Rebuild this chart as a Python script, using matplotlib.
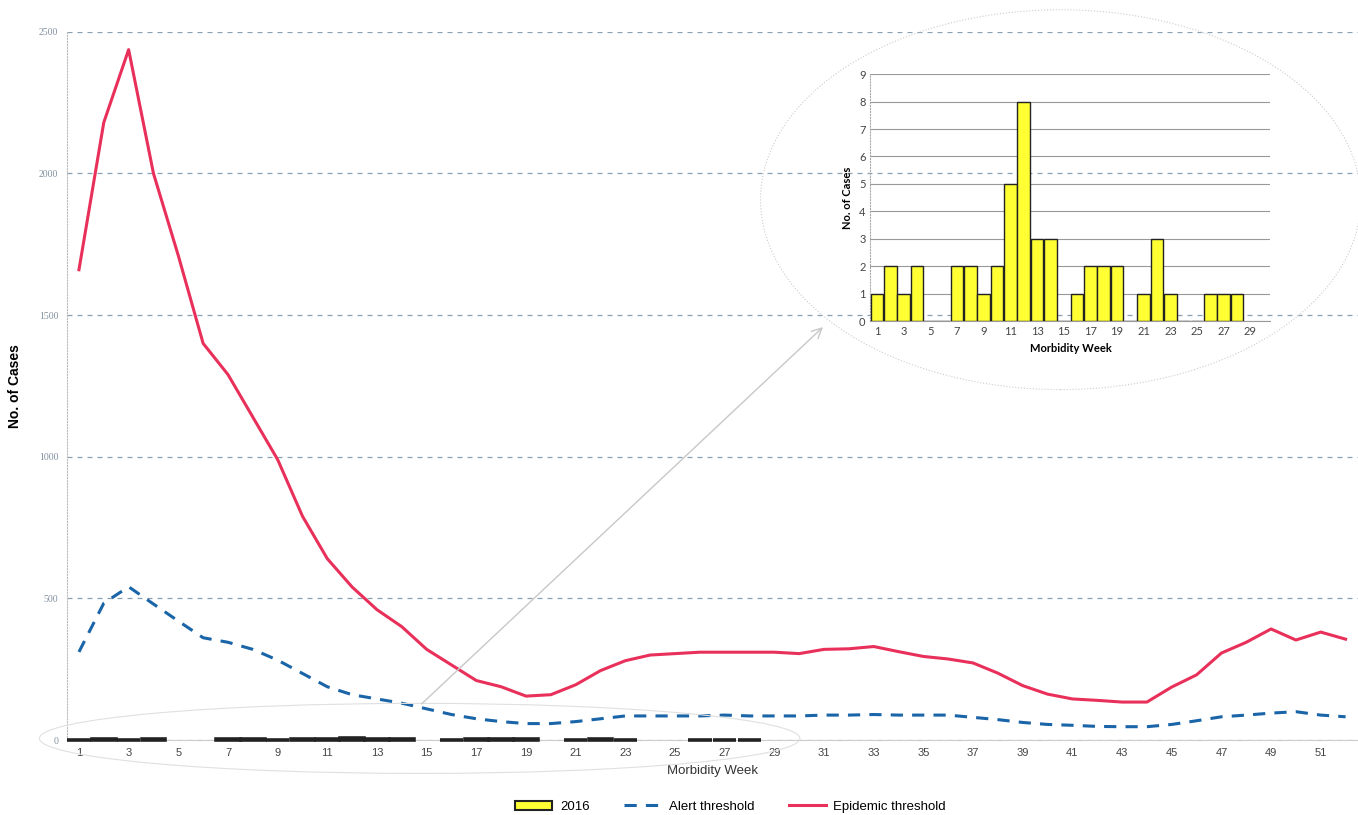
import numpy as np
import matplotlib.pyplot as plt
from matplotlib.patches import Ellipse, FancyArrowPatch, Patch
from matplotlib.lines import Line2D

plt.rcParams['font.family'] = ['Liberation Sans', 'DejaVu Sans']

# weekly data
weeks = np.arange(1, 53)
epidemic = [1660, 2180, 2437, 2000, 1710, 1400, 1290, 1140, 990, 790,
            640, 540, 460, 400, 320, 265, 210, 188, 155, 160,
            195, 245, 280, 300, 305, 310, 310, 310, 310, 305,
            320, 322, 330, 312, 295, 286, 272, 236, 192, 162,
            145, 140, 134, 134, 187, 230, 307, 345, 392, 353,
            381, 356]
alert = [311, 483, 541, 480, 420, 361, 345, 320, 282, 235,
         188, 160, 145, 130, 110, 90, 75, 65, 58, 58,
         65, 75, 85, 85, 85, 85, 88, 85, 85, 85,
         88, 88, 90, 88, 88, 88, 80, 72, 62, 55,
         52, 48, 47, 47, 55, 68, 82, 88, 95, 100,
         88, 82]
weeks_2016 = np.arange(1, 29)
cases_2016 = np.array([1, 2, 1, 2, 0, 0, 2, 2, 1, 2, 5, 8, 3, 3, 0,
                       1, 2, 2, 2, 0, 1, 3, 1, 0, 0, 1, 1, 1])

yellow = '#ffff33'
red = '#e8305a'
blue = '#1a64a8'

fig = plt.figure(figsize=(13.58, 8.15), dpi=100)
ax = fig.add_axes([0.049, 0.092, 0.951, 0.869])

# bars are tiny on this scale, they show up as dark strokes on the axis
nz = cases_2016 > 0
ax.bar(weeks_2016[nz], cases_2016[nz], width=0.95, color=yellow,
       edgecolor='#222222', lw=2.6, zorder=3, clip_on=False)
ax.plot(weeks, alert, color=blue, lw=2.2, ls=(0, (4, 3)), zorder=4)
ax.plot(weeks, epidemic, color=red, lw=2.2, zorder=4)

ax.set_xlim(0.5, 52.5)
ax.set_ylim(0, 2500)
ax.set_yticks([0, 500, 1000, 1500, 2000, 2500])
ax.set_xticks(np.arange(1, 53, 2))
ax.grid(axis='y', color='#8aa0b0', ls=(0, (4, 4)), lw=0.9)
for s in ['top', 'right']:
    ax.spines[s].set_visible(False)
ax.spines['left'].set_color('#bbbbbb')
ax.spines['left'].set_linestyle(':')
ax.spines['bottom'].set_color('#cccccc')
ax.tick_params(length=0)
ax.tick_params(axis='y', labelsize=7, labelcolor='#8090a0', pad=6)
ax.tick_params(axis='x', labelsize=8, labelcolor='#444444', pad=6)
for t in ax.get_yticklabels():
    t.set_family('Liberation Serif')
ax.set_xlabel('Morbidity Week', fontsize=9.5, color='#333333', labelpad=5)
ax.set_ylabel('No. of Cases', fontsize=10, fontweight='bold', labelpad=12)

# inset chart of 2016 cases
ins = fig.add_axes([0.641, 0.606, 0.2945, 0.303])
ins.patch.set_alpha(0)
ins.bar(weeks_2016, cases_2016, width=0.95, color=yellow, edgecolor='#222222', lw=1.0, zorder=3)
ins.set_xlim(0.5, 30.5)
ins.set_ylim(0, 9)
ins.set_yticks(range(0, 10))
ins.set_xticks(range(1, 30, 2))
ins.grid(axis='y', color='#999999', lw=0.8)
for s in ['top', 'right']:
    ins.spines[s].set_visible(False)
ins.spines['left'].set_color('#aaaaaa')
ins.spines['left'].set_linestyle(':')
ins.spines['bottom'].set_color('#999999')
ins.tick_params(length=0, labelsize=8, labelcolor='#444444')
for t in ins.get_xticklabels() + ins.get_yticklabels():
    t.set_family('Lato')
ins.set_xlabel('Morbidity Week', fontsize=8, fontweight='bold', family='Lato', labelpad=4)
ins.set_ylabel('No. of Cases', fontsize=8, fontweight='bold', family='Lato', labelpad=4)

# zoom decorations
fig.add_artist(Ellipse((0.781, 0.755), 0.442, 0.466, transform=fig.transFigure,
                       fill=False, ec='#cccccc', lw=0.8, ls=':'))
fig.add_artist(Ellipse((0.309, 0.094), 0.56, 0.086, transform=fig.transFigure,
                       fill=False, ec='#e0e0e0', lw=0.8))
fig.add_artist(FancyArrowPatch((0.309, 0.134), (0.6075, 0.601), transform=fig.transFigure,
                               arrowstyle='->', mutation_scale=18, color='#c8c8c8', lw=1))

handles = [Patch(facecolor=yellow, edgecolor='#222222', lw=1.5),
           Line2D([], [], color=blue, lw=2.2, ls=(0, (4, 3))),
           Line2D([], [], color=red, lw=2.2)]
fig.legend(handles, ['2016', 'Alert threshold', 'Epidemic threshold'], loc='lower center',
           ncol=3, frameon=False, fontsize=9.5, bbox_to_anchor=(0.538, -0.012),
           handlelength=2.8, columnspacing=2.6, handletextpad=0.6)

fig.savefig('out.png', dpi=100)
